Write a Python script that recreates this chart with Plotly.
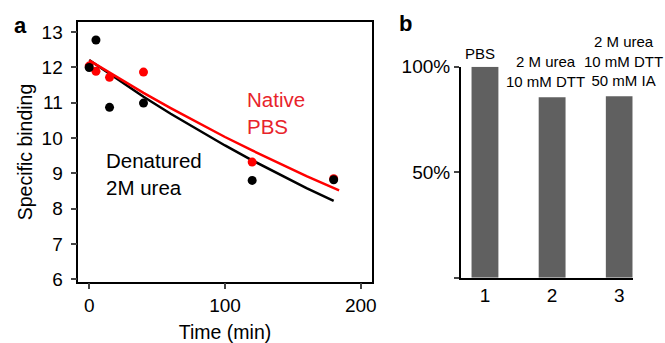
import plotly.graph_objects as go

# Panel a data
time_pts = [0, 5, 15, 40, 120, 180]
native_pts = [12.04, 11.89, 11.72, 11.87, 9.32, 8.85]
denat_pts = [12.0, 12.78, 10.87, 10.99, 8.80, 8.82]

fit_time_denat = [0, 20, 40, 60, 80, 100, 120, 140, 160, 180]
fit_denat = [12.21, 11.68, 11.17, 10.69, 10.23, 9.79, 9.37, 8.97, 8.58, 8.22]
fit_time_native = [0, 20, 40, 60, 80, 100, 120, 140, 160, 184]
fit_native = [12.20, 11.73, 11.28, 10.85, 10.43, 10.03, 9.65, 9.28, 8.92, 8.52]

# Panel b data
conditions = [1, 2, 3]
relative_binding = [1.0, 0.855, 0.86]
condition_labels = ["PBS", "2 M urea<br>10 mM DTT", "2 M urea<br>10 mM DTT<br>50 mM IA"]

FONT = "Liberation Sans, Arial, Helvetica, sans-serif"
RED = "#ff0000"

fig = go.Figure()

fig.add_trace(go.Scatter(x=fit_time_denat, y=fit_denat, mode="lines",
                         line=dict(color="black", width=2.5), xaxis="x", yaxis="y",
                         showlegend=False))
fig.add_trace(go.Scatter(x=fit_time_native, y=fit_native, mode="lines",
                         line=dict(color=RED, width=2.5), xaxis="x", yaxis="y",
                         showlegend=False))
fig.add_trace(go.Scatter(x=time_pts, y=native_pts, mode="markers",
                         marker=dict(color=RED, size=9), xaxis="x", yaxis="y",
                         showlegend=False))
fig.add_trace(go.Scatter(x=time_pts, y=denat_pts, mode="markers",
                         marker=dict(color="black", size=9), xaxis="x", yaxis="y",
                         showlegend=False))

fig.add_trace(go.Bar(x=conditions, y=relative_binding, width=0.4,
                     marker=dict(color="#606060", line=dict(width=0)),
                     xaxis="x2", yaxis="y2", showlegend=False))

fig.update_layout(
    width=665, height=343,
    margin=dict(l=0, r=0, t=0, b=0, autoexpand=False),
    paper_bgcolor="white", plot_bgcolor="white",
    font=dict(family=FONT, size=19, color="black"),
    xaxis=dict(domain=[78.3/665, 371.7/665], range=[-8, 208], automargin=False,
               tickvals=[0, 100, 200], ticks="outside", ticklen=6, tickwidth=1.5,
               showline=True, linecolor="black", linewidth=1.5, mirror=True,
               showgrid=False, zeroline=False,
               tickfont=dict(size=19),
               title=dict(text="Time (min)", font=dict(size=19.5), standoff=10)),
    yaxis=dict(domain=[1-281.7/343, 1-22.3/343], range=[5.93, 13.28], automargin=False,
               tickvals=[6, 7, 8, 9, 10, 11, 12, 13], ticks="outside", ticklen=6, tickwidth=1.5,
               ticklabelstandoff=4,
               showline=True, linecolor="black", linewidth=1.5, mirror=True,
               showgrid=False, zeroline=False,
               tickfont=dict(size=19),
               title=dict(text="Specific binding", font=dict(size=19.5), standoff=4)),
    xaxis2=dict(domain=[461/665, 632.7/665], range=[0.643, 3.2], anchor="y2", automargin=False,
                tickvals=conditions, ticktext=[str(c) for c in conditions],
                ticks="", showline=True, linecolor="black", linewidth=1.5,
                showgrid=False, zeroline=False, tickfont=dict(size=19)),
    yaxis2=dict(domain=[1-277.7/343, 1-66.7/343], range=[0, 1.0], anchor="x2", automargin=False,
                tickvals=[0, 0.5, 1.0], ticktext=["", "50%", "100%"],
                ticks="outside", ticklen=5, tickwidth=2,
                showline=True, linecolor="black", linewidth=2,
                showgrid=False, zeroline=False, tickfont=dict(size=19)),
)

annotations = [
    dict(text="<b>a</b>", xref="paper", yref="paper", x=12/665, y=1-25/343,
         xanchor="left", yanchor="middle", showarrow=False, font=dict(size=22)),
    dict(text="<b>b</b>", xref="paper", yref="paper", x=397/665, y=1-23/343,
         xanchor="left", yanchor="middle", showarrow=False, font=dict(size=22)),
    dict(text="Native<br>PBS", xref="x", yref="y", x=115, y=10.72,
         xanchor="left", yanchor="middle", align="left", showarrow=False,
         font=dict(size=20.5, color="#e8232a")),
    dict(text="Denatured<br>2M urea", xref="x", yref="y", x=11, y=8.975,
         xanchor="left", yanchor="middle", align="left", showarrow=False,
         font=dict(size=20.5, color="black")),
]
label_y_px = [53.3, 71.3, 61.1]
label_shift = [-5, -7, 4]
for c, lab, ly, sh in zip(conditions, condition_labels, label_y_px, label_shift):
    annotations.append(dict(text=lab, xref="x2", yref="paper", x=c, y=1-ly/343, xshift=sh,
                            xanchor="center", yanchor="middle", align="center",
                            showarrow=False, font=dict(size=15)))
fig.update_layout(annotations=annotations)

fig.write_html("out.html", config={"displayModeBar": False},
               post_script="document.body.style.margin='0';document.body.style.overflow='hidden';")
